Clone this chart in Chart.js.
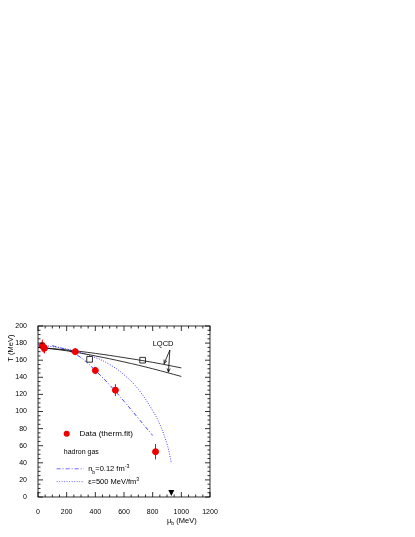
<!DOCTYPE html>
<html>
<head>
<meta charset="UTF-8">
<script src="https://cdn.jsdelivr.net/npm/chart.js@4"></script>
<style>body{margin:0;background:#fff}</style>
</head>
<body>
<div style="width:415px;height:537px"><canvas id="c"></canvas></div>
<script>
// data
var dataMu = [30, 40, 45, 260, 400, 540, 820];
var dataT = [177, 175, 174, 170, 148, 125, 53];
var dataErr = [7, 6, 6, 4, 4, 7, 9];
var lqcdUpMu = [0, 200, 400, 600, 800, 1000];
var lqcdUpT = [175, 172, 168, 163, 157.5, 151];
var lqcdLoT = [175, 171, 165, 158, 150, 141];
var lqcdSqMu = [360, 730];
var lqcdSqT = [161, 160];
var nbMu = [100, 200, 300, 400, 500, 600, 700, 800];
var nbT = [177, 172, 163, 148, 131, 112, 92, 72];
var epsMu = [0, 200, 400, 500, 600, 700, 800, 850, 900, 930];
var epsT = [178, 173, 163, 155, 143, 126, 101, 85, 62, 40];

function xy(a, b){ return a.map(function(v,i){ return {x:v, y:b[i]}; }); }

// text with sub/superscript parts: [text, mode] mode 0 normal, -1 sub, 1 sup
function rich(c, parts, px, py, size){
  parts.forEach(function(p){
    var s = p[1] ? size*0.7 : size;
    c.font = s + 'px Liberation Sans';
    var dy = p[1] == 1 ? -size*0.45 : (p[1] == -1 ? size*0.3 : 0);
    c.fillText(p[0], px, py + dy);
    px += c.measureText(p[0]).width;
  });
}

var extras = {
  id:'extras',
  afterDatasetsDraw: function(ch){
    var c = ch.ctx, x = ch.scales.x, y = ch.scales.y, a = ch.chartArea;
    c.save();
    // error bars
    c.strokeStyle = '#e00'; c.lineWidth = 1;
    dataMu.forEach(function(m,i){
      c.beginPath();
      c.moveTo(x.getPixelForValue(m), y.getPixelForValue(dataT[i]-dataErr[i]));
      c.lineTo(x.getPixelForValue(m), y.getPixelForValue(dataT[i]+dataErr[i]));
      c.stroke();
    });
    // frame
    c.strokeStyle = '#000'; c.lineWidth = 0.8;
    c.strokeRect(a.left, a.top, a.right-a.left, a.bottom-a.top);
    for (var v=0; v<=1200; v+=50){
      var px = x.getPixelForValue(v), l = v%200==0 ? 5 : 2.5;
      c.beginPath(); c.moveTo(px,a.bottom); c.lineTo(px,a.bottom-l);
      c.moveTo(px,a.top); c.lineTo(px,a.top+l); c.stroke();
    }
    for (var w=0; w<=200; w+=5){
      var py = y.getPixelForValue(w), m = w%20==0 ? 5 : 2.5;
      c.beginPath(); c.moveTo(a.left,py); c.lineTo(a.left+m,py);
      c.moveTo(a.right,py); c.lineTo(a.right-m,py); c.stroke();
    }
    // LQCD label and arrows
    c.fillStyle = '#000';
    rich(c, [['LQCD',0]], x.getPixelForValue(800), y.getPixelForValue(177), 7.5);
    function arrow(x0,y0,x1,y1){
      var X0=x.getPixelForValue(x0), Y0=y.getPixelForValue(y0), X1=x.getPixelForValue(x1), Y1=y.getPixelForValue(y1);
      c.beginPath(); c.moveTo(X0,Y0); c.lineTo(X1,Y1); c.stroke();
      var ang = Math.atan2(Y1-Y0, X1-X0);
      c.beginPath(); c.moveTo(X1,Y1);
      c.lineTo(X1-4*Math.cos(ang-0.4), Y1-4*Math.sin(ang-0.4));
      c.moveTo(X1,Y1);
      c.lineTo(X1-4*Math.cos(ang+0.4), Y1-4*Math.sin(ang+0.4)); c.stroke();
    }
    arrow(920, 172, 880, 156);
    arrow(920, 172, 910, 146);
    // legend texts
    c.beginPath(); c.fillStyle = '#e00';
    c.arc(x.getPixelForValue(200), y.getPixelForValue(74), 3, 0, 7); c.fill();
    c.fillStyle = '#000';
    rich(c, [['Data (therm.fit)',0]], x.getPixelForValue(290), y.getPixelForValue(71), 8);
    rich(c, [['hadron gas',0]], x.getPixelForValue(180), y.getPixelForValue(50), 7);
    rich(c, [['n',0],['b',-1],['=0.12 fm',0],['-3',1]], x.getPixelForValue(350), y.getPixelForValue(30), 7.5);
    rich(c, [['\u03b5=500 MeV/fm',0],['3',1]], x.getPixelForValue(350), y.getPixelForValue(15), 7.5);
    c.strokeStyle = '#44f';
    c.setLineDash([4,2,1,2]);
    c.beginPath(); c.moveTo(x.getPixelForValue(130), y.getPixelForValue(33));
    c.lineTo(x.getPixelForValue(320), y.getPixelForValue(33)); c.stroke();
    c.setLineDash([1,1.5]);
    c.beginPath(); c.moveTo(x.getPixelForValue(130), y.getPixelForValue(18));
    c.lineTo(x.getPixelForValue(320), y.getPixelForValue(18)); c.stroke();
    c.setLineDash([]);
    // triangle
    var tx = x.getPixelForValue(930), ty = y.getPixelForValue(0);
    c.fillStyle = '#000'; c.beginPath();
    c.moveTo(tx-3, ty-7); c.lineTo(tx+3, ty-7); c.lineTo(tx, ty-1); c.fill();
    // axis titles
    rich(c, [['\u03bc',0],['b',-1],[' (MeV)',0]], x.getPixelForValue(900), a.bottom+26, 7.5);
    c.translate(13, y.getPixelForValue(190)); c.rotate(-Math.PI/2);
    c.textAlign = 'right'; c.font = '7.5px Liberation Sans'; c.fillText('T (MeV)', 0, 0);
    c.restore();
  }
};

new Chart(document.getElementById('c'), {
  type: 'scatter',
  data: { datasets: [
    {data: xy(dataMu, dataT), backgroundColor:'#e00', borderColor:'#e00', pointRadius:3},
    {data: xy(lqcdUpMu, lqcdUpT), showLine:true, borderColor:'#000', borderWidth:0.8, pointRadius:0, tension:0.4},
    {data: xy(lqcdUpMu, lqcdLoT), showLine:true, borderColor:'#000', borderWidth:0.8, pointRadius:0, tension:0.4},
    {data: xy(lqcdSqMu, lqcdSqT), pointStyle:'rect', pointRadius:4, backgroundColor:'#fff', borderColor:'#000', borderWidth:0.8},
    {data: xy(nbMu, nbT), showLine:true, borderColor:'#44f', borderWidth:1, borderDash:[4,2,1,2], pointRadius:0, tension:0.4},
    {data: xy(epsMu, epsT), showLine:true, borderColor:'#44f', borderWidth:1, borderDash:[1,1.5], pointRadius:0, tension:0.4}
  ]},
  plugins: [extras],
  options: {
    responsive:true, maintainAspectRatio:false, animation:false,
    layout:{padding:{left:0, right:205, top:326, bottom:0}},
    plugins:{legend:{display:false}, tooltip:{enabled:false}},
    scales:{
      x:{min:0, max:1200, ticks:{stepSize:200, callback:function(v){return v;}, font:{size:7, family:'Liberation Sans'}, color:'#000', maxRotation:0, padding:3},
         grid:{display:false}, border:{display:false}, afterFit:function(s){ s.height = 40; }},
      y:{min:0, max:200, ticks:{stepSize:20, font:{size:7, family:'Liberation Sans'}, color:'#000', padding:3},
         grid:{display:false}, border:{display:false}, afterFit:function(s){ s.width = 38; }}
    }
  }
});
</script>
</body>
</html>
